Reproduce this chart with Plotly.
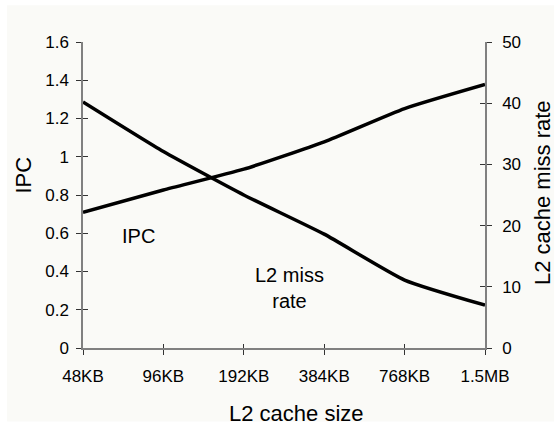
import plotly.graph_objects as go

cache_sizes = ["48KB", "96KB", "192KB", "384KB", "768KB", "1.5MB"]
ipc = [0.71, 0.826, 0.935, 1.078, 1.252, 1.378]
miss_rate = [40.2, 32.1, 25.0, 18.6, 11.1, 7.0]

FONT = "Liberation Sans, Arial, sans-serif"
AX = "#808080"

fig = go.Figure()
fig.add_trace(go.Scatter(x=cache_sizes, y=ipc, mode="lines",
                         line=dict(color="black", width=3.5, shape="spline", smoothing=0.5),
                         showlegend=False, hoverinfo="skip"))
fig.add_trace(go.Scatter(x=cache_sizes, y=miss_rate, mode="lines", yaxis="y2",
                         line=dict(color="black", width=3.5, shape="spline", smoothing=0.5),
                         showlegend=False, hoverinfo="skip"))
# invisible traces carrying the inner halves of the crossing tick marks
fig.add_trace(go.Scatter(x=cache_sizes, y=[None] * len(cache_sizes), xaxis="x3", yaxis="y3",
                         mode="lines", showlegend=False, hoverinfo="skip"))
fig.add_trace(go.Scatter(x=cache_sizes, y=[None] * len(cache_sizes), yaxis="y4",
                         mode="lines", showlegend=False, hoverinfo="skip"))

tickfont = dict(family=FONT, size=17, color="black")
common_y = dict(showgrid=False, zeroline=False)

fig.update_layout(
    width=557, height=427,
    margin=dict(l=83, r=72, t=42, b=79),
    paper_bgcolor="white", plot_bgcolor="rgba(0,0,0,0)",
    font=dict(family=FONT, color="black"),
    xaxis=dict(type="category", categoryorder="array", categoryarray=cache_sizes,
               range=[0, len(cache_sizes) - 1], showgrid=False, zeroline=False,
               showline=True, linecolor=AX, linewidth=1.5,
               ticks="outside", ticklen=5, tickwidth=1, tickcolor="#333",
               tickfont=tickfont, ticklabelstandoff=7),
    xaxis3=dict(type="category", categoryorder="array", categoryarray=cache_sizes,
                range=[0, len(cache_sizes) - 1], overlaying="x", anchor="y",
                showgrid=False, zeroline=False, showline=False, showticklabels=False,
                ticks="inside", ticklen=4, tickwidth=1, tickcolor="#333"),
    yaxis=dict(range=[0, 1.6], dtick=0.2, tick0=0, **common_y,
               showline=True, linecolor=AX, linewidth=1.5,
               ticks="outside", ticklen=5, tickwidth=1, tickcolor="#333",
               tickfont=tickfont, ticklabelstandoff=4),
    yaxis2=dict(range=[0, 50], dtick=10, tick0=0, overlaying="y", side="right", anchor="x",
                **common_y, showline=True, linecolor=AX, linewidth=1.5,
                ticks="outside", ticklen=5, tickwidth=1, tickcolor="#333",
                tickfont=tickfont, ticklabelstandoff=7),
    yaxis3=dict(range=[0, 1.6], dtick=0.2, tick0=0, overlaying="y", side="left", anchor="x3",
                **common_y, showline=False, showticklabels=False,
                ticks="inside", ticklen=5, tickwidth=1, tickcolor="#333"),
    yaxis4=dict(range=[0, 50], dtick=10, tick0=0, overlaying="y", side="right", anchor="x",
                **common_y, showline=False, showticklabels=False,
                ticks="inside", ticklen=5, tickwidth=1, tickcolor="#333"),
    shapes=[dict(type="rect", xref="paper", yref="paper", layer="below",
                 x0=-0.189, x1=1.172, y0=-0.240, y1=1.12,
                 fillcolor="#fafaf7", line=dict(width=0))],
    annotations=[
        dict(text="L2 cache size", xref="paper", yref="paper", x=0.531, y=-0.215,
             showarrow=False, xanchor="center", yanchor="middle",
             font=dict(family=FONT, size=22, color="black")),
        dict(text="IPC", xref="paper", yref="paper", x=-0.148, y=0.565, textangle=-90,
             showarrow=False, xanchor="center", yanchor="middle",
             font=dict(family=FONT, size=22, color="black")),
        dict(text="L2 cache miss rate", xref="paper", yref="paper", x=1.143, y=0.508,
             textangle=-90, showarrow=False, xanchor="center", yanchor="middle",
             font=dict(family=FONT, size=22, color="black")),
        dict(text="IPC", x=0.685, y=0.586, xref="x", yref="y", showarrow=False,
             xanchor="center", yanchor="middle",
             font=dict(family=FONT, size=20, color="black")),
        dict(text="L2 miss<br>rate", x=2.565, y=0.315, xref="x", yref="y", showarrow=False,
             xanchor="center", yanchor="middle",
             font=dict(family=FONT, size=20, color="black")),
    ],
)

fig.write_html("out.html")
